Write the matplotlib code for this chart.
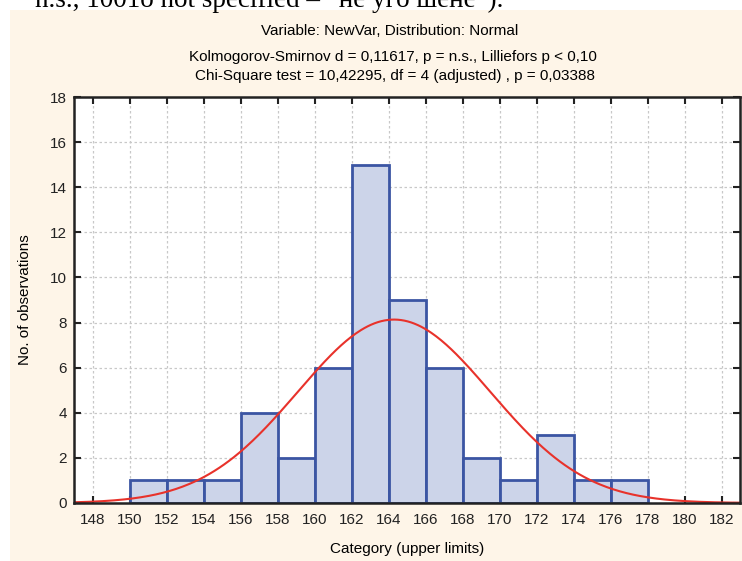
import numpy as np
import matplotlib
matplotlib.use("Agg")
import matplotlib.pyplot as plt
from matplotlib.patches import Rectangle

plt.rcParams['font.family'] = ['Liberation Sans', 'DejaVu Sans']

# histogram data (upper limits of 2-unit bins)
bin_edges = [150, 152, 154, 156, 158, 160, 162, 164, 166, 168, 170, 172, 174, 176, 178]
counts = [1, 1, 1, 4, 2, 6, 15, 9, 6, 2, 1, 3, 1, 1]
x_ticks = list(range(148, 184, 2))
y_ticks = list(range(0, 20, 2))

# fitted normal
mu = 164.3
sigma = 5.2
n_obs = sum(counts)
bin_w = 2

title1 = "Variable: NewVar, Distribution: Normal"
title2 = "Kolmogorov-Smirnov d = 0,11617, p = n.s., Lilliefors p < 0,10"
title3 = "Chi-Square test = 10,42295, df = 4 (adjusted) , p = 0,03388"

fig = plt.figure(figsize=(7.42, 5.61), dpi=100)
fig.patch.set_facecolor('white')

# cream background panel
fig.patches.append(Rectangle((10 / 742, 0), 1, 1 - 10 / 561, transform=fig.transFigure,
                             facecolor='#fef5e8', edgecolor='none', zorder=-5))

# document text cut off at the top
fig.text(35 / 742, 1 - 7 / 561, 'n.s., 1001o not specified \u2013 \u201cне уго шене\u201d).',
         family='Liberation Serif', fontsize=19.5, ha='left', va='baseline', color='black')

ax = fig.add_axes([74 / 742, 1 - 503 / 561, (740 - 74) / 742, (503 - 97) / 561])
ax.set_facecolor('white')

lefts = np.array(bin_edges[:-1])
ax.bar(lefts, counts, width=bin_w, align='edge', color='#ccd4e9',
       edgecolor='#3b55a3', linewidth=2, zorder=3)

xs = np.linspace(147, 183, 400)
ys = n_obs * bin_w / (sigma * np.sqrt(2 * np.pi)) * np.exp(-(xs - mu) ** 2 / (2 * sigma ** 2))
ax.plot(xs, ys, color='#e8322b', linewidth=1.5, zorder=4)

ax.set_xlim(147, 183)
ax.set_ylim(0, 18)
ax.set_xticks(x_ticks)
ax.set_yticks(y_ticks)
ax.tick_params(direction='in', top=True, right=True, length=5, width=1.5,
               labelsize=11, colors='#222222', pad=7)
ax.tick_params(axis='y', pad=5)
ax.grid(True, linestyle=(0, (2, 2)), color='#c8c8c8', linewidth=0.9, zorder=0)
for s in ax.spines.values():
    s.set_linewidth(1.8)
    s.set_color('#222222')
    s.set_zorder(5)

ax.set_xlabel('Category (upper limits)', fontsize=11, labelpad=11)
ax.set_ylabel('No. of observations', fontsize=11, labelpad=13)

fig.text(390 / 742, 1 - 31 / 561, title1, ha='center', va='center', fontsize=11)
fig.text(393 / 742, 1 - 57 / 561, title2, ha='center', va='center', fontsize=11)
fig.text(395 / 742, 1 - 76 / 561, title3, ha='center', va='center', fontsize=11)

fig.savefig('out.png', dpi=100)
